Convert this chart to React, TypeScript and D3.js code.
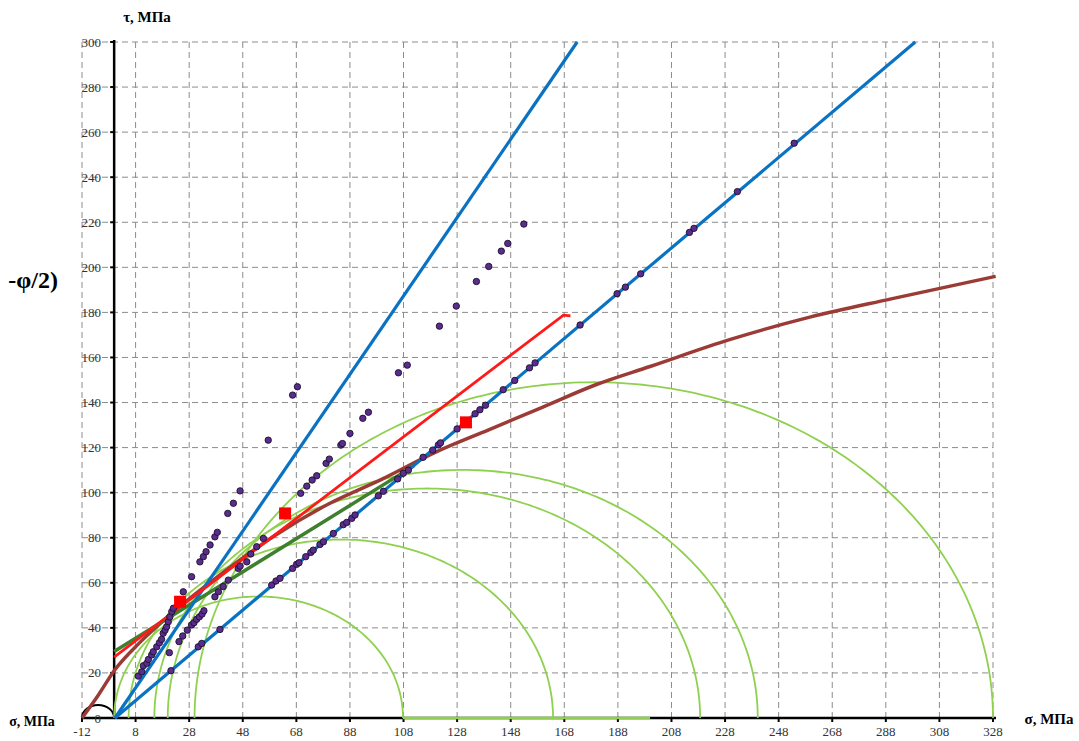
import * as d3 from "d3";
import {useEffect, useRef} from "react";

const useD3 = (renderChartFn, dependencies) => {
    const ref = useRef(null);
    useEffect(() => {
        renderChartFn(d3.select(ref.current));
        return () => {};
    }, dependencies);
    return ref;
};

// tick values
const sigmaTicks = d3.range(-12, 329, 20);
const tauTicks = d3.range(0, 301, 20);

// Mohr circles: left and right ends on the sigma axis
const mohrLeft = [0, 5.4, 15, 20, 30];
const mohrRight = [107.8, 163.8, 218.7, 240.2, 328];

// envelope curve (brown)
const envelope = [
    [-12, 0], [-6, 10], [0, 21], [10, 34], [23, 48], [40, 64], [60, 81], [80, 95],
    [100, 106], [120, 118], [140, 128], [160, 138], [180, 148], [200, 156],
    [230, 168], [260, 178], [290, 186], [329, 196]
];

// straight lines
const blueSteep = [[0.3, 0], [172.8, 300]];
const blueShallow = [[0.3, 0], [299, 300]];
const redLine = [[0, 27], [167.7, 178.8], [170.3, 178.5]];
const darkGreenLine = [[0, 29.5], [112, 112]];
const axisGreen = [[107.8, 0], [200, 0]];

// measured points
const pointsSteep = [
    [9.0, 18.6], [10.3, 20.5], [10.9, 23.2], [12.2, 24.3], [12.8, 26], [14, 28], [14.6, 29.4],
    [15.9, 31.6], [16.9, 33.4], [17.7, 34.9], [18.3, 37.6], [19, 39], [19.6, 40.5], [20.2, 42.7],
    [20.8, 44.9], [21.5, 47.2], [22.1, 48.7], [25.8, 56], [28.9, 62.7], [32, 69.3], [33.3, 71.6],
    [34.3, 73.8], [35.8, 76.8], [37.6, 80.4], [38.5, 82.4], [42.4, 90.8], [44.5, 95.3], [47, 100.8],
    [57.5, 123.3], [66.6, 143.3], [68.4, 147]
];
const pointsMid = [
    [20.6, 29], [24.2, 33.9], [25.6, 36.4], [27.3, 39], [28.9, 41.3], [29.8, 42.3], [30.8, 43.8],
    [31.8, 44.9], [32.8, 46.1], [33.5, 47.6], [37.6, 53.8], [38.9, 56], [40.7, 58.3], [42.6, 61.2],
    [46.3, 66.4], [47, 67.4], [49.5, 69.3], [51, 72.8], [53.2, 76], [55.7, 79.7], [69.6, 99.7],
    [71.9, 102.9], [73.9, 105.6], [75.6, 107.5], [79.1, 113], [80.3, 114.9], [84.6, 121.1],
    [85.2, 121.8], [88, 126.3], [92.8, 133], [94.9, 135.7], [106.1, 153.2], [109.4, 156.6],
    [121.4, 173.9], [127.7, 182.8], [135.2, 193.7], [139.8, 200.4], [144.5, 207.2],
    [146.9, 210.6], [152.9, 219.2]
];
const pointsLine = [
    [21.2, 21], [31.4, 31.6], [32.7, 33.1], [39.5, 39.3], [58.8, 59], [60.4, 60.8], [61.9, 62],
    [66.6, 66.4], [68.1, 68.2], [69, 68.9], [71.5, 71.6], [73.4, 73.5], [74.3, 74.5], [76.8, 77],
    [78.1, 78.2], [81.8, 81.9], [85.5, 85.8], [86.8, 86.8], [88.7, 88.6], [89.9, 90.1], [98.6, 98.6],
    [100.5, 100.6], [105.8, 106.1], [107.9, 108.6], [109.8, 110], [115.3, 115.7], [118.9, 118.9],
    [121, 121.2], [121.8, 122.1], [128, 128.3], [134.7, 135], [136.5, 136.8], [138.6, 138.8],
    [145.2, 145.7], [149.5, 149.8], [155, 155.4], [157.1, 157.6], [173.9, 174.4], [187.7, 188.3],
    [190.8, 191.2], [196.5, 197.1], [214.7, 215.5], [216.4, 217.3], [232.6, 233.6], [253.8, 255.1]
];
const redSquares = [[24.6, 51.6], [63.8, 90.8], [131.3, 131.2]];

// small angle arc at the origin
const angleArc = [-12, 0];

const W = 1079;
const H = 741;
const FONT = "'Liberation Serif', 'Times New Roman', serif";

const Chart = () => {
    const ref = useD3((svg) => {
        svg.selectAll("*").remove();

        const x = d3.scaleLinear().domain([-12, 328]).range([82, 993]);
        const y = d3.scaleLinear().domain([0, 300]).range([718, 42]);
        const line = d3.line().x(d => x(d[0])).y(d => y(d[1]));

        // grid
        const grid = svg.append("g")
            .attr("stroke", "#8c8c8c")
            .attr("stroke-width", 1)
            .attr("stroke-dasharray", "6,4");
        grid.selectAll(".v").data(sigmaTicks).enter().append("line")
            .attr("x1", d => x(d)).attr("x2", d => x(d))
            .attr("y1", y(0)).attr("y2", y(300));
        grid.selectAll(".h").data(tauTicks.filter(d => d > 0)).enter().append("line")
            .attr("x1", x(-12)).attr("x2", x(328))
            .attr("y1", d => y(d)).attr("y2", d => y(d));

        // axes
        svg.append("line")
            .attr("x1", x(-12)).attr("x2", x(328) + 3)
            .attr("y1", y(0)).attr("y2", y(0))
            .attr("stroke", "#000").attr("stroke-width", 2.5);
        svg.append("line")
            .attr("x1", x(0)).attr("x2", x(0))
            .attr("y1", y(0)).attr("y2", y(300) - 2)
            .attr("stroke", "#000").attr("stroke-width", 2.5);
        svg.append("g").selectAll("line").data(sigmaTicks).enter().append("line")
            .attr("x1", d => x(d)).attr("x2", d => x(d))
            .attr("y1", y(0)).attr("y2", y(0) + 4)
            .attr("stroke", "#000").attr("stroke-width", 2);
        svg.append("g").selectAll("line").data(tauTicks).enter().append("line")
            .attr("x1", x(0) - 4).attr("x2", x(0))
            .attr("y1", d => y(d)).attr("y2", d => y(d))
            .attr("stroke", "#000").attr("stroke-width", 2);

        // tick labels
        svg.append("g").selectAll("text").data(sigmaTicks).enter().append("text")
            .attr("x", d => x(d)).attr("y", 736)
            .attr("text-anchor", "middle")
            .attr("font-family", FONT).attr("font-size", 13)
            .attr("fill", "#333")
            .text(d => d);
        svg.append("g").selectAll("text").data(tauTicks).enter().append("text")
            .attr("x", 101).attr("y", d => y(d) + 4.5)
            .attr("text-anchor", "end")
            .attr("font-family", FONT).attr("font-size", 13)
            .attr("fill", "#333")
            .text(d => d);

        // angle arc at the origin
        const ax0 = x(angleArc[0]);
        const ax1 = x(angleArc[1]);
        const rx = (ax1 - ax0) / 2;
        svg.append("path")
            .attr("d", `M${ax0},${y(0)} A${rx},13 0 0 1 ${ax1},${y(0)}`)
            .attr("fill", "none").attr("stroke", "#000").attr("stroke-width", 2);

        // Mohr circles
        const arcs = svg.append("g").attr("fill", "none")
            .attr("stroke", "#8fd14f").attr("stroke-width", 1.8);
        mohrLeft.forEach((l, i) => {
            const c = (l + mohrRight[i]) / 2;
            const r = (mohrRight[i] - l) / 2;
            const pts = d3.range(0, 181, 1).map(a => {
                const t = a * Math.PI / 180;
                return [c - r * Math.cos(t), r * Math.sin(t)];
            });
            arcs.append("path").attr("d", line(pts));
        });
        svg.append("path").attr("d", line(axisGreen))
            .attr("stroke", "#8fd14f").attr("stroke-width", 2.5).attr("fill", "none");

        // envelope
        svg.append("path")
            .attr("d", line.curve(d3.curveMonotoneX)(envelope))
            .attr("fill", "none").attr("stroke", "#9c3b36").attr("stroke-width", 3.5);
        line.curve(d3.curveLinear);

        svg.append("path").attr("d", line(darkGreenLine))
            .attr("fill", "none").attr("stroke", "#3f7f2e").attr("stroke-width", 3.5);

        [blueSteep, blueShallow].forEach(l => {
            svg.append("path").attr("d", line(l))
                .attr("fill", "none").attr("stroke", "#0a72c2").attr("stroke-width", 3.2);
        });

        svg.append("path").attr("d", line(redLine))
            .attr("fill", "none").attr("stroke", "#ff1a1a").attr("stroke-width", 2.8);

        // points
        svg.append("g").selectAll("circle")
            .data([...pointsSteep, ...pointsMid, ...pointsLine]).enter().append("circle")
            .attr("cx", d => x(d[0])).attr("cy", d => y(d[1]))
            .attr("r", 3.2)
            .attr("fill", "#5a2d8c").attr("stroke", "#1c1030").attr("stroke-width", 0.9);

        svg.append("g").selectAll("rect").data(redSquares).enter().append("rect")
            .attr("x", d => x(d[0]) - 6).attr("y", d => y(d[1]) - 6)
            .attr("width", 12).attr("height", 12)
            .attr("fill", "#ff0000");

        // titles
        svg.append("text").attr("x", 147).attr("y", 22)
            .attr("text-anchor", "middle")
            .attr("font-family", FONT).attr("font-size", 15).attr("font-weight", "bold")
            .text("τ, МПа");
        svg.append("text").attr("x", 1049).attr("y", 724)
            .attr("text-anchor", "middle")
            .attr("font-family", FONT).attr("font-size", 15).attr("font-weight", "bold")
            .text("σ, МПа");
        svg.append("text").attr("x", 32).attr("y", 726)
            .attr("text-anchor", "middle")
            .attr("font-family", FONT).attr("font-size", 14).attr("font-weight", "bold")
            .text("σ, МПа");
        svg.append("text").attr("x", 58).attr("y", 288)
            .attr("text-anchor", "end")
            .attr("font-family", FONT).attr("font-size", 24).attr("font-weight", "bold")
            .text("-φ/2)");
    }, []);

    return (
        <svg ref={ref} width={W} height={H}
             style={{position: "absolute", left: 0, top: 0, background: "#fff"}}/>
    );
};

export default function App() {
    return <div><Chart/></div>;
}
